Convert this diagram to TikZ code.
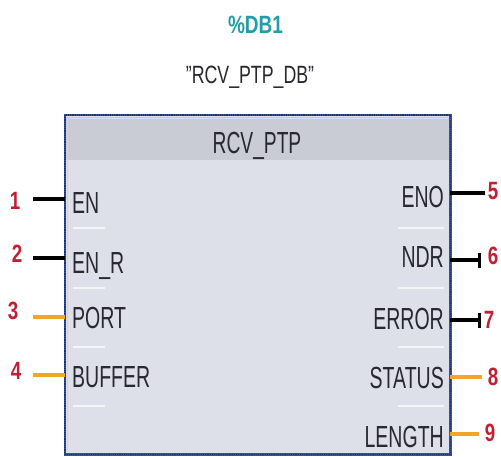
\documentclass[tikz,border=0pt]{standalone}
\usepackage{fontspec}
\usepackage{graphicx}
\setmainfont{Liberation Sans}
\usetikzlibrary{arrows.meta}
\newcommand\nrw[2][0.64]{\scalebox{#1}[1]{#2}}
\definecolor{teal1}{RGB}{32,160,166}
\definecolor{numred}{RGB}{196,30,50}
\definecolor{pinorange}{RGB}{242,165,40}
\definecolor{boxfill}{RGB}{221,223,233}
\definecolor{headfill}{RGB}{201,204,212}
\definecolor{borderblue}{RGB}{52,82,160}
\definecolor{txt}{RGB}{40,40,48}
\tikzset{
  pinlbl/.style={inner sep=0pt, text=txt, font=\fontsize{30.5}{30}\selectfont},
  numlbl/.style={inner sep=0pt, text=numred, font=\fontsize{25}{25}\selectfont\bfseries},
  bstub/.style={line width=4pt, black},
  ostub/.style={line width=4pt, pinorange},
  barend/.style={-{Bar[width=15pt,line width=3pt]}},
  sep/.style={white, line width=1.5pt, opacity=0.7}
}
\begin{document}
\begin{tikzpicture}[x=1pt,y=-1pt]
\useasboundingbox (0,0) rectangle (501,456);
\fill[white] (0,0) rectangle (501,456);
% titles
\node[inner sep=0pt, anchor=base, text=teal1, font=\fontsize{25}{25}\selectfont\bfseries] (inst) at (255.5,33) {\nrw[0.76]{\%DB1}};
\node[inner sep=0pt, anchor=base, text=txt, font=\fontsize{25}{25}\selectfont] (db) at (250,83) {\nrw[0.71]{\symbol{34}RCV\_PTP\_DB\symbol{34}}};
% block
\node[draw=none, fill=boxfill, minimum width=385pt, minimum height=339pt, inner sep=0pt, anchor=north west] (fb) at (65,115) {};
\fill[headfill] (65,117) rectangle (450,160);
\draw[white!85!blue, line width=1pt] (67,118) -- (448,118);
\draw[white!80!blue, line width=1pt] (67.5,118) -- (67.5,452);
\draw[borderblue, line width=2.5pt] (fb.north west) rectangle (fb.south east);
\draw[borderblue!60!black, line width=1.2pt, densely dotted] (fb.north west) rectangle (fb.south east);
\node[inner sep=0pt, anchor=base, text=txt, font=\fontsize{30.5}{30}\selectfont] (hdr) at (257,153) {\nrw[0.63]{RCV\_PTP}};
% separators
\foreach \yy in {228,288,347,406} {\draw[sep] (73,\yy) -- (105,\yy);}
\foreach \yy in {228,288,347,406} {\draw[sep] (398,\yy) -- (444,\yy);}
% left pins
\node[pinlbl, anchor=base west] (en) at (72,213) {\nrw{EN}};
\node[pinlbl, anchor=base west] (enr) at (72,273) {\nrw{EN\_R}};
\node[pinlbl, anchor=base west] (port) at (72,328) {\nrw{PORT}};
\node[pinlbl, anchor=base west] (buf) at (72,387) {\nrw{BUFFER}};
% right pins
\node[pinlbl, anchor=base east] (eno) at (444,207) {\nrw{ENO}};
\node[pinlbl, anchor=base east] (ndr) at (444,267) {\nrw{NDR}};
\node[pinlbl, anchor=base east] (err) at (444,329) {\nrw{ERROR}};
\node[pinlbl, anchor=base east] (stat) at (444,388) {\nrw{STATUS}};
\node[pinlbl, anchor=base east] (len) at (444,447) {\nrw{LENGTH}};
% numbers
\node[numlbl] (n1) at (15,201) {\nrw[0.75]{1}};
\node[numlbl] (n2) at (17,254) {\nrw[0.75]{2}};
\node[numlbl] (n3) at (13,311) {\nrw[0.75]{3}};
\node[numlbl] (n4) at (16,371) {\nrw[0.75]{4}};
\node[numlbl] (n5) at (493,191) {\nrw[0.75]{5}};
\node[numlbl] (n6) at (493,256) {\nrw[0.75]{6}};
\node[numlbl] (n7) at (489,320) {\nrw[0.75]{7}};
\node[numlbl] (n8) at (493,377) {\nrw[0.75]{8}};
\node[numlbl] (n9) at (490,433) {\nrw[0.75]{9}};
% stub end coordinates
\coordinate (l1a) at (33,199);  \coordinate (l1b) at (65,199);
\coordinate (l2a) at (33,258);  \coordinate (l2b) at (65,258);
\coordinate (l3a) at (33,317);  \coordinate (l3b) at (65,317);
\coordinate (l4a) at (33,375);  \coordinate (l4b) at (65,375);
\coordinate (r5a) at (450,193); \coordinate (r5b) at (485,193);
\coordinate (r6a) at (450,260); \coordinate (r6b) at (481,260);
\coordinate (r7a) at (450,320); \coordinate (r7b) at (481,320);
\coordinate (r8a) at (450,377); \coordinate (r8b) at (482,377);
\coordinate (r9a) at (450,434); \coordinate (r9b) at (479,434);
\draw[bstub] (l1a) -- (l1b);
\draw[bstub] (l2a) -- (l2b);
\draw[ostub] (l3a) -- (l3b);
\draw[ostub] (l4a) -- (l4b);
\draw[bstub] (r5a) -- (r5b);
\draw[bstub, barend] (r6a) -- (r6b);
\draw[bstub, barend] (r7a) -- (r7b);
\draw[ostub] (r8a) -- (r8b);
\draw[ostub] (r9a) -- (r9b);
\end{tikzpicture}
\end{document}
